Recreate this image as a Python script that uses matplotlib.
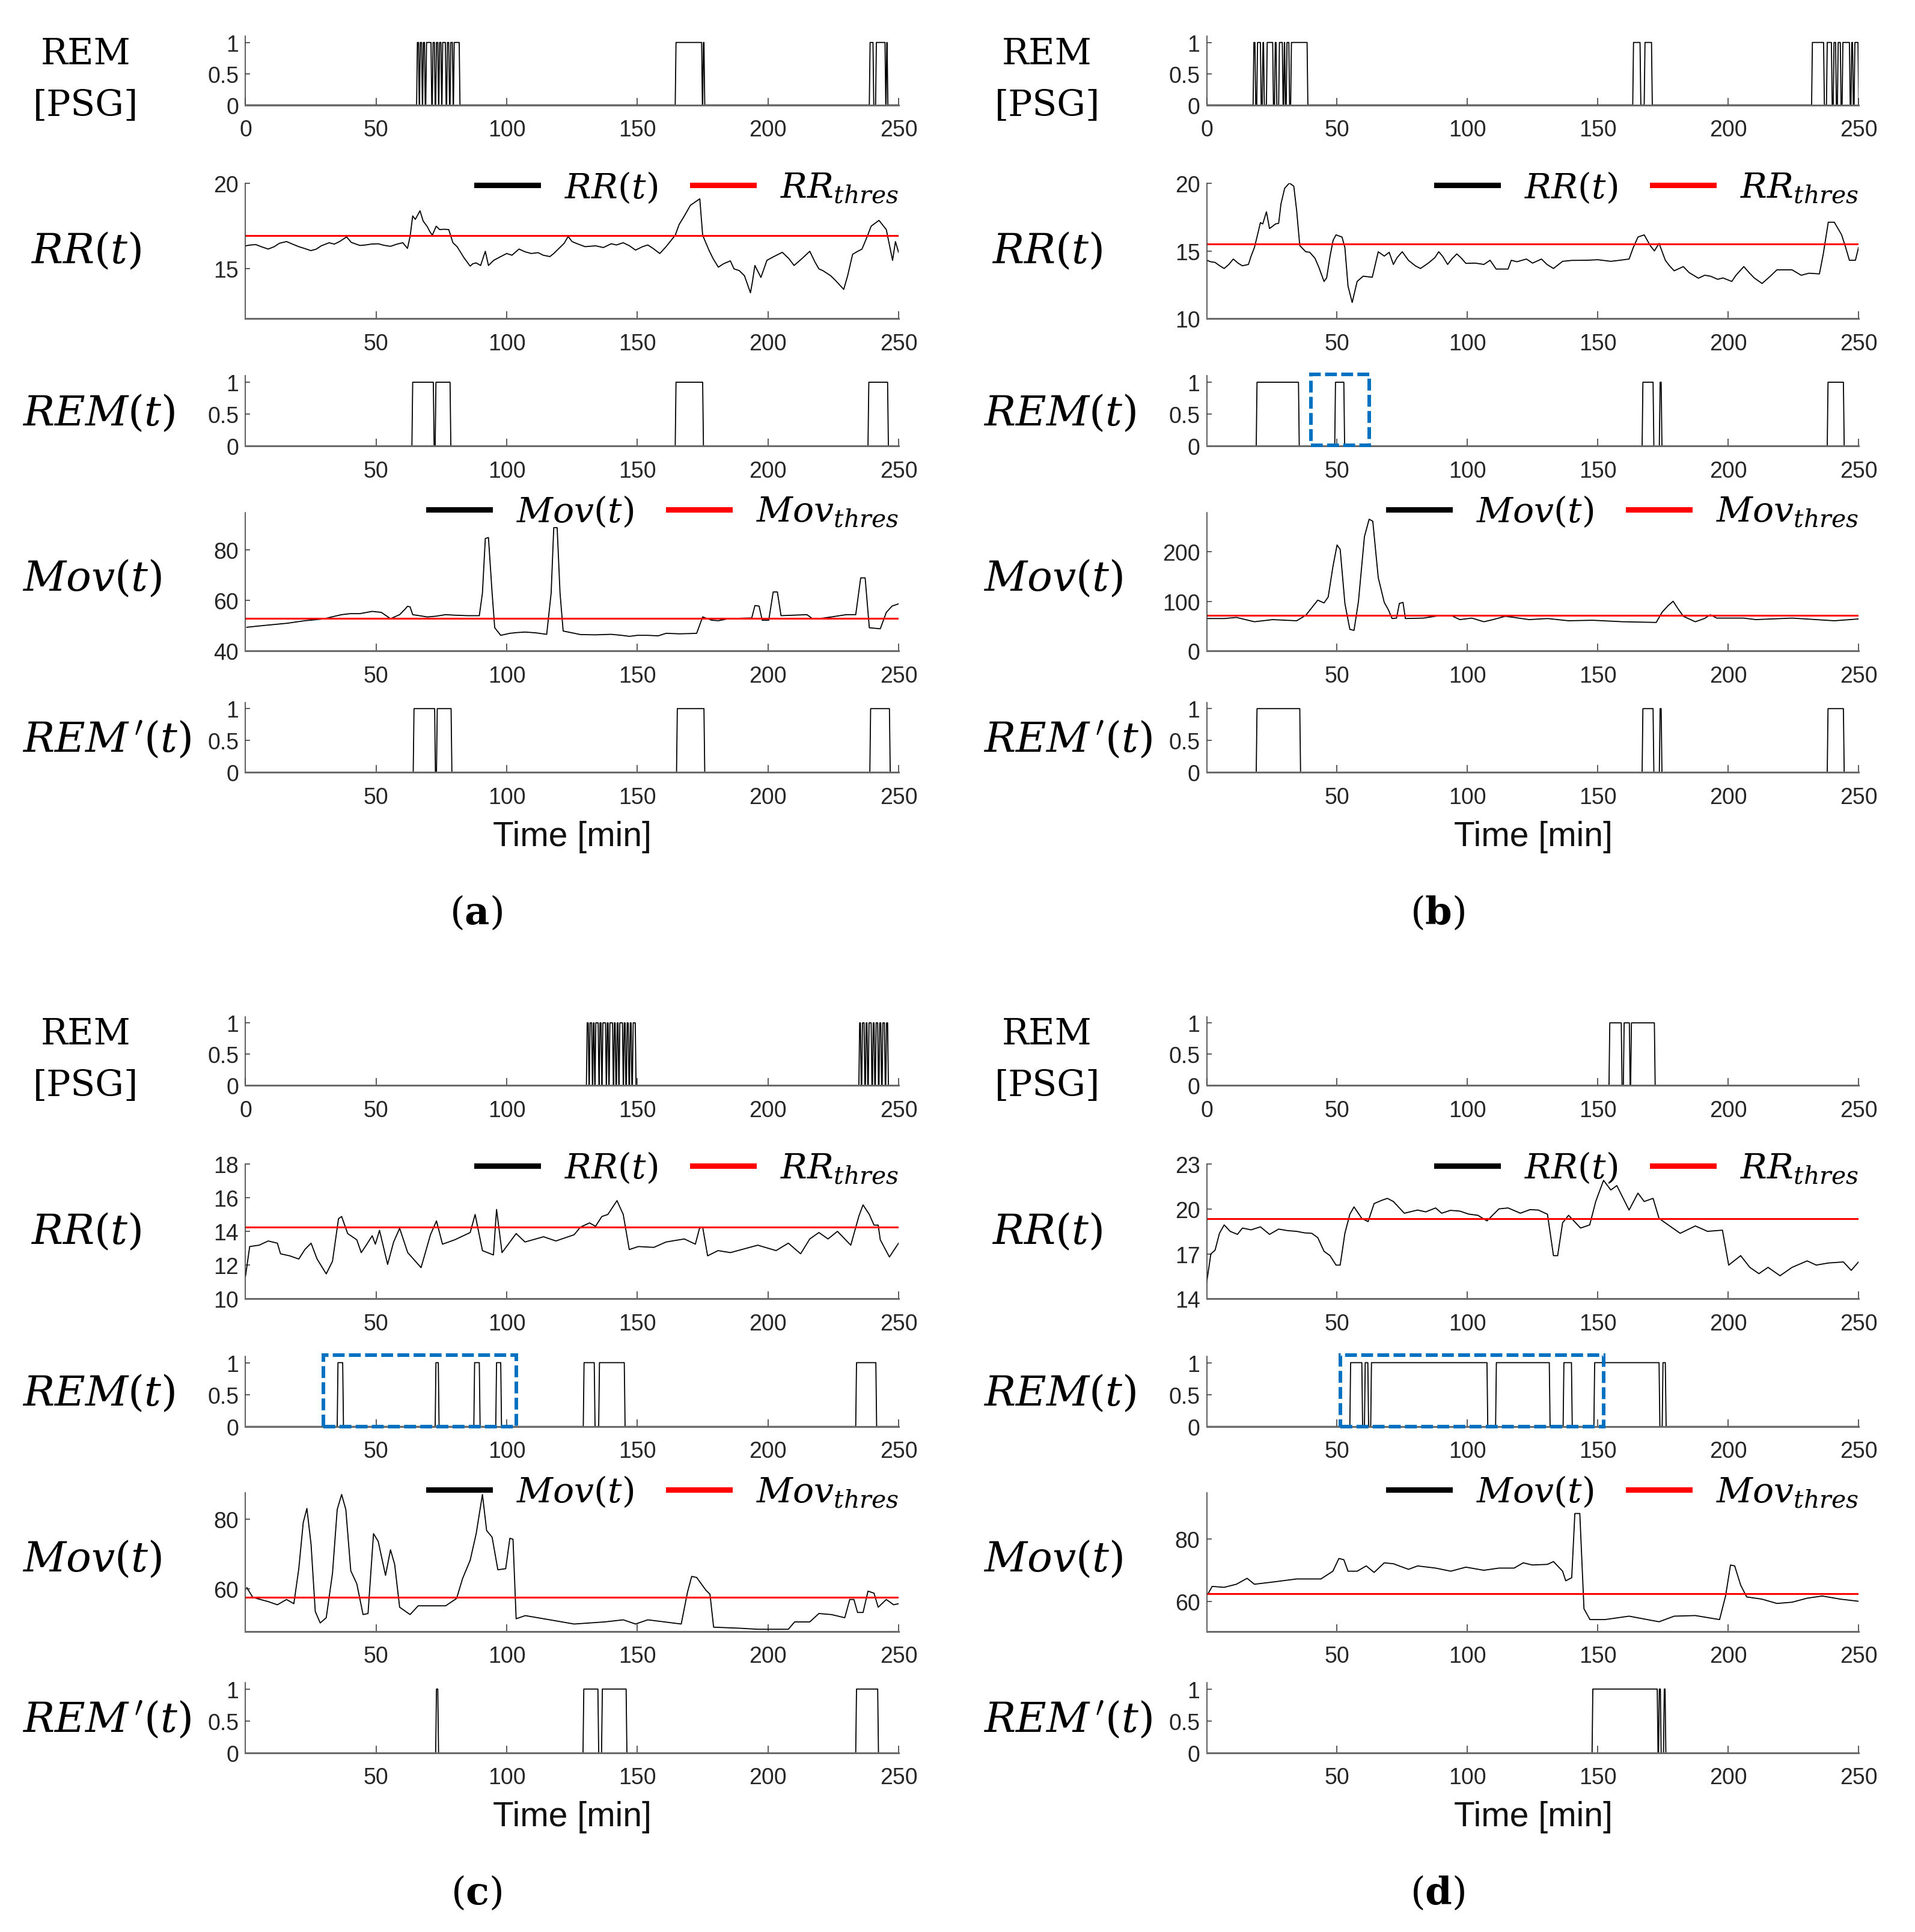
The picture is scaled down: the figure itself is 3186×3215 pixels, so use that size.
import matplotlib
matplotlib.use('Agg')
import matplotlib.pyplot as plt
from matplotlib.patches import Rectangle

plt.rcParams['mathtext.fontset'] = 'dejavuserif'
plt.rcParams['font.family'] = ['Liberation Sans', 'DejaVu Sans']

# ---------------- DATA ----------------
time_ticks_psg = [0, 50, 100, 150, 200, 250]
time_ticks = [50, 100, 150, 200, 250]

# REM [PSG] intervals (start, end) in minutes
psg_a = [(65.5, 66.2), (66.6, 67.4), (67.8, 68.5), (69.0, 71.0), (71.5, 72.3), (72.8, 73.6),
         (74.0, 74.8), (75.2, 76.5), (77.0, 77.8), (78.3, 79.2), (79.6, 81.8),
         (164.5, 174.6), (175.0, 175.5), (238.8, 240.2), (241.2, 244.8), (245.2, 245.6)]
psg_b = [(17.8, 18.5), (19.2, 20.6), (21.3, 21.8), (22.9, 25.3), (26.0, 26.6), (27.6, 29.0),
         (29.5, 29.9), (30.5, 31.5), (32.2, 38.5), (163.4, 166.2), (167.8, 170.6),
         (232.0, 236.6), (237.7, 239.6), (240.3, 241.2), (241.9, 243.0), (243.7, 246.5),
         (247.1, 247.7), (248.3, 249.8)]
psg_c = [(130.5, 131.2), (131.6, 132.5), (132.9, 133.4), (133.8, 135.0), (135.4, 136.1),
         (136.5, 137.8), (138.2, 138.8), (139.2, 140.5), (140.9, 141.5), (142.0, 142.6),
         (143.0, 144.3), (144.7, 145.3), (145.8, 146.5), (147.0, 147.6), (148.1, 149.2),
         (234.8, 235.4), (235.9, 236.8), (237.3, 237.9), (238.4, 239.5), (240.0, 240.6),
         (241.1, 242.0), (242.5, 243.2), (243.7, 244.6), (245.1, 245.8)]
psg_d = [(154.3, 159.0), (159.8, 162.1), (162.6, 171.7)]

# REM(t) detected intervals
rem_a = [(63.7, 71.9), (72.6, 78.3), (164.5, 175.0), (238.3, 245.8)]
rem_b = [(19.0, 35.2), (49.1, 52.6), (167.0, 171.2), (173.6, 174.3), (238.0, 244.2)]
rem_c = [(35.1, 37.2), (72.6, 73.8), (87.4, 89.5), (95.8, 97.7), (129.3, 133.5),
         (135.2, 145.0), (233.6, 241.3)]
rem_d = [(54.9, 59.5), (60.5, 61.8), (62.9, 107.5), (110.8, 131.4), (136.7, 139.9),
         (148.5, 173.5), (174.7, 175.9)]

# REM'(t) intervals
remp_a = [(64.2, 72.4), (73.1, 78.7), (165.0, 175.5), (239.0, 246.5)]
remp_b = [(19.0, 35.7), (167.0, 171.2), (173.6, 174.3), (238.0, 244.2)]
remp_c = [(72.8, 73.6), (129.2, 134.9), (136.3, 145.7), (233.6, 242.0)]
remp_d = [(147.8, 172.8), (173.3, 174.0), (175.2, 175.8)]

# RR(t) traces (time, value)
rr_a = [(0, 16.35), (2, 16.4), (4, 16.42), (6, 16.3), (8.7, 16.16), (11, 16.3), (13, 16.5), (15.7, 16.6),
        (18, 16.45), (20.4, 16.3), (22.5, 16.2), (25, 16.07), (27, 16.15), (29, 16.35), (32, 16.53),
        (34, 16.45), (36, 16.6), (38.7, 16.87), (40.5, 16.55), (43.8, 16.37), (46, 16.4), (48, 16.45),
        (50.8, 16.47), (53, 16.38), (55.5, 16.32), (58, 16.45), (60.2, 16.53), (62, 16.2), (63, 16.9),
        (64, 18.1), (65, 17.9), (66.8, 18.4), (68, 17.8), (69.6, 17.47), (70.5, 17.2), (71.5, 16.97),
        (73, 17.5), (74.3, 17.3), (76, 17.32), (77.8, 17.3), (79.4, 16.53), (81, 16.3), (83.6, 15.66),
        (86, 15.16), (87, 15.3), (88.3, 15.35), (90, 15.2), (91.8, 16.03), (93, 15.2), (95, 15.5),
        (97.7, 15.72), (100, 15.9), (102, 15.8), (104.7, 16.16), (107, 16.0), (109.4, 15.9), (112, 15.95),
        (114, 15.8), (116.5, 15.72), (118, 15.9), (120, 16.2), (122, 16.5), (123.5, 16.9), (125, 16.6),
        (127, 16.47), (130, 16.3), (134, 16.35), (137, 16.25), (140, 16.47), (142, 16.4), (144.6, 16.53),
        (147, 16.35), (149.3, 16.1), (152, 16.3), (154, 16.4), (156, 16.2), (158.6, 15.9), (161, 16.3),
        (164.5, 16.97), (166, 17.6), (168, 18.1), (170.3, 18.72), (172, 18.9), (173.9, 19.1), (175, 16.97),
        (177.4, 16.1), (179, 15.6), (181, 15.1), (183, 15.3), (185.6, 15.47), (187, 15.0), (189, 14.9),
        (191, 14.6), (193.3, 13.6), (194, 14.2), (195, 15.2), (197.3, 14.5), (199.6, 15.5), (202, 15.7),
        (205.5, 15.97), (208, 15.6), (210, 15.2), (213, 15.6), (216, 16.03), (218, 15.4), (219.5, 15.0),
        (221, 14.9), (224, 14.6), (226, 14.3), (229, 13.8), (230.5, 14.6), (232.4, 15.85), (234, 16.0),
        (236, 16.16), (238, 16.9), (239.5, 17.5), (242.5, 17.84), (245.3, 17.3), (247.7, 15.5),
        (248.8, 16.6), (250, 15.97)]
rr_b = [(0, 14.31), (1.5, 14.2), (3.2, 14.15), (5, 13.9), (6.7, 13.7), (8.5, 14.0), (10.2, 14.4), (12, 14.1),
        (13.7, 13.9), (16, 14.0), (17, 14.6), (18.3, 15.25), (19.5, 16.2), (20.6, 17.1), (21.5, 17.0),
        (22.9, 17.9), (24.1, 16.66), (26.4, 17.0), (27.6, 17.05), (28.5, 18.5), (29.9, 19.64), (31.7, 20.03),
        (33.4, 19.8), (34.5, 18.0), (35.7, 15.4), (38, 14.94), (39.5, 14.9), (41.5, 14.47), (43, 13.8),
        (45, 12.74), (46, 13.0), (47.3, 14.6), (48.5, 15.8), (49.6, 16.19), (51.9, 16.03), (53, 15.25),
        (54.2, 12.4), (55.8, 11.18), (57.7, 12.74), (60, 13.13), (63.5, 13.05), (65.8, 14.94), (68.1, 14.62),
        (70, 14.9), (71.6, 14.0), (73, 14.5), (75, 14.94), (77.4, 14.3), (80, 13.9), (82, 13.7), (85, 14.1),
        (87.5, 14.5), (89, 14.94), (90.5, 14.6), (92.4, 14.0), (94, 14.4), (95.9, 14.78), (97.5, 14.5),
        (99.4, 14.08), (103, 14.1), (106.3, 14.0), (108.7, 14.31), (111, 13.66), (115.6, 13.66),
        (116.8, 14.31), (119, 14.2), (122.6, 14.4), (125, 14.1), (128.4, 14.4), (130.5, 14.0), (133, 13.7),
        (136.5, 14.23), (140, 14.3), (145.7, 14.31), (150, 14.35), (155, 14.23), (158, 14.3), (162, 14.4),
        (163.5, 15.2), (165.4, 16.03), (167.8, 16.19), (170.1, 15.4), (171.7, 15.0), (173.5, 15.56),
        (175.9, 14.31), (177.5, 13.9), (179.3, 13.53), (182.8, 13.84), (185, 13.4), (188.6, 12.98),
        (191, 13.2), (193.2, 13.13), (196, 12.9), (198, 13.0), (201.4, 12.74), (203, 13.2), (206, 13.84),
        (208, 13.4), (210, 13.0), (213, 12.59), (216, 13.1), (218.7, 13.6), (224.5, 13.6), (228, 13.2),
        (231, 13.35), (235, 13.3), (236.5, 14.8), (238.4, 17.13), (240.7, 17.13), (243.5, 16.2),
        (245, 15.3), (246.5, 14.31), (248.8, 14.31), (250, 15.25)]
rr_c = [(0, 11.35), (1.6, 13.1), (5.2, 13.18), (8.7, 13.43), (12.2, 13.3), (13.4, 12.67), (16.9, 12.55),
        (20.4, 12.36), (22.7, 12.92), (25.1, 13.3), (27.4, 12.36), (30.9, 11.48), (33.3, 12.23),
        (35.6, 14.75), (36.8, 14.88), (39.1, 13.87), (42.6, 13.5), (44.3, 12.74), (46.2, 13.18),
        (48.5, 13.74), (49.7, 13.24), (51.3, 14.06), (54.4, 12.04), (56.7, 13.37), (59, 14.18),
        (62.1, 12.74), (67.2, 11.85), (70.8, 13.8), (73.1, 14.62), (75.4, 13.24), (80.1, 13.5),
        (86, 13.93), (87.9, 15.0), (90.7, 12.86), (94.9, 12.6), (96.1, 15.3), (98.2, 12.74),
        (103.6, 13.87), (107, 13.37), (114.1, 13.68), (118.8, 13.43), (125.8, 13.8), (128.2, 14.25),
        (131.7, 14.5), (134, 14.3), (136.4, 14.88), (138.7, 15.0), (142.2, 15.82), (144.6, 15.0),
        (146.9, 12.92), (150.4, 13.1), (156.3, 13.05), (161, 13.37), (168, 13.55), (172.2, 13.24),
        (173.8, 14.18), (175, 14.25), (176.9, 12.55), (180.9, 12.86), (185.6, 12.74), (196.1, 13.18),
        (203.1, 12.86), (207.8, 13.3), (212.5, 12.67), (216, 13.55), (219.5, 13.93), (223, 13.55),
        (226.6, 14.0), (231.7, 13.18), (234.8, 14.9), (236.4, 15.57), (238.8, 15.0), (240.6, 14.37),
        (242.2, 14.37), (243, 13.5), (246.5, 12.48), (248.1, 12.86), (250, 13.3)]
rr_d = [(0, 15.1), (1.6, 17.0), (3.2, 17.24), (4.9, 18.37), (6.7, 18.93), (9, 18.5), (11.8, 18.3),
        (13.7, 18.72), (17, 18.6), (20.6, 18.8), (24.1, 18.3), (27.6, 18.65), (31, 18.55), (34.5, 18.5),
        (37.5, 18.4), (40.3, 18.37), (42.6, 18.08), (45, 17.17), (47.3, 16.88), (49.6, 16.25),
        (51.2, 16.25), (53, 18.37), (54.9, 19.64), (56.5, 20.13), (59.5, 19.36), (61.9, 19.15),
        (64.2, 20.35), (67, 20.56), (69.3, 20.7), (71.6, 20.49), (75.8, 19.71), (80.9, 19.92),
        (84, 19.8), (87.8, 20.06), (90.1, 19.71), (93.5, 19.9), (97.1, 19.85), (100.5, 19.65),
        (104, 19.57), (107.5, 19.2), (112.1, 20.0), (115.6, 20.06), (120.3, 19.71), (124, 19.95),
        (127.2, 19.92), (130.7, 19.64), (133, 16.88), (134.6, 16.88), (136.5, 19.07), (138.8, 19.57),
        (143.4, 18.72), (146.9, 18.93), (149.2, 20.49), (152.2, 21.9), (155, 21.26), (157.3, 21.55),
        (162, 19.92), (165.4, 21.05), (167.8, 20.49), (171.2, 20.7), (173.5, 19.36), (177, 18.93),
        (181.6, 18.37), (187.4, 18.86), (192.1, 18.5), (197.8, 18.58), (200.2, 16.25), (204.8, 16.88),
        (208.3, 16.1), (211.8, 15.68), (215.3, 16.1), (219.9, 15.54), (224.5, 16.1), (230.3, 16.53),
        (233.8, 16.25), (238.4, 16.39), (244.2, 16.46), (247.2, 15.9), (250, 16.46)]

rr_thr_a, rr_thr_b, rr_thr_c, rr_thr_d = 16.95, 15.52, 14.25, 19.36

# Mov(t) traces (time, value)
mov_a = [(0.5, 49.4), (5, 49.9), (11, 50.5), (16, 51.0), (22.7, 52), (29.8, 52.7), (33, 53.5), (36.8, 54.4),
         (40, 54.8), (43.8, 54.8), (48.5, 55.7), (52, 55.3), (55.5, 52.8), (59, 54.4), (61, 56.5), (62, 57.7),
         (63, 57.5), (64, 54.4), (69.6, 53.5), (73, 53.8), (76.6, 54.4), (80, 54.2), (85, 54.0), (89.5, 54),
         (90.7, 63), (91.8, 84.6), (93, 85), (94.4, 63), (95.4, 49.2), (97.7, 46.2), (101.2, 47), (104, 47.3),
         (107, 47.5), (111, 47.2), (115.3, 46.6), (117, 63), (118, 88.9), (119.3, 88.9), (120.4, 63),
         (121.6, 47.9), (125, 47.2), (128.2, 46.5), (134, 46.4), (140, 46.6), (144, 46.2), (147, 45.8),
         (150, 46.2), (154, 46.2), (158, 46.0), (161, 47), (166, 46.8), (170, 46.9), (172.7, 47), (175, 53.5),
         (178.5, 52.2), (181, 52.0), (184.4, 52.7), (190, 53.0), (193.8, 53.1), (195, 58), (196.6, 57.8),
         (197.8, 52.2), (200.3, 52.2), (202, 63.4), (203.6, 63.4), (205, 54), (210, 54.2), (214.9, 54.4),
         (217.2, 52.7), (220, 52.9), (224.3, 53.5), (230, 54.4), (233.6, 54.4), (235.5, 69), (237.2, 69),
         (238.8, 49.2), (243, 48.8), (245.3, 55.3), (247.5, 57.8), (250, 58.7)]
mov_b = [(0, 65.5), (6.7, 65.5), (11.4, 67.7), (18.3, 59), (25.3, 63.3), (34.5, 61), (38, 72), (40.3, 87.3),
         (42.6, 102.6), (45, 97), (46.6, 109), (48.4, 170), (50, 214), (51.2, 205), (53, 96), (54.9, 43.7),
         (56.5, 41.5), (58.2, 100), (60.5, 231), (62.3, 266), (63.7, 262), (65.8, 148), (68.1, 98),
         (69.7, 83), (71.1, 65.5), (72.8, 66.4), (73.9, 96), (75.3, 98), (76.2, 65.5), (83.2, 66.4),
         (90.1, 72), (93.6, 72), (97.1, 63.3), (101.7, 66.4), (106.3, 59), (109.8, 63.3), (114.5, 70),
         (117.9, 67.7), (123.7, 63.3), (130.7, 65.5), (138.8, 61), (148, 62), (159.6, 59), (172.4, 57.6),
         (174.7, 78.6), (177, 91.7), (178.9, 100.4), (180.5, 87.3), (182.8, 70), (187.4, 59), (190.9, 65.5),
         (193.2, 73), (195.6, 66.4), (206, 66.4), (210.6, 63.3), (224.5, 66.4), (233.8, 63.3), (240.7, 61),
         (250, 64.6)]
mov_c = [(0.5, 60.4), (2.8, 57.6), (8.7, 56.4), (12.2, 55.5), (15.7, 57), (18.5, 55.8), (20.4, 65.8),
         (22.1, 79), (23.5, 83), (25.1, 72.7), (26.7, 53.6), (28.6, 50.3), (30.9, 51.8), (33.3, 64.5),
         (35.1, 82.7), (36.8, 87), (38.4, 82.7), (40.3, 65.2), (42.6, 61.5), (45, 52.7), (46.9, 53),
         (49, 75.8), (50.8, 73.6), (53.6, 63.9), (55.5, 71.2), (57.1, 67), (59, 54.8), (63, 52.7),
         (66.1, 55.2), (76.6, 55.2), (80.8, 57.3), (83.1, 63), (86, 68.2), (88.3, 75.8), (90.7, 87),
         (92.3, 76.7), (94.4, 74.8), (96.6, 65.5), (99.6, 65.8), (101.2, 74.5), (102.4, 74.2),
         (103.6, 51.5), (107.1, 52.4), (116.5, 51.2), (125.8, 50), (137.5, 50.6), (144.6, 51.2),
         (149.3, 50), (154, 51.2), (166.8, 50), (169.2, 59.1), (170.8, 63.6), (172.7, 63.3), (176.2, 59.7),
         (177.8, 58.5), (179.2, 49.1), (189.1, 48.8), (196.1, 48.5), (207.8, 48.5), (210.2, 50.6),
         (216, 50.6), (219.5, 53), (224.3, 52.7), (229.4, 51.8), (231.3, 57), (232.9, 57), (234.3, 53.3),
         (236.4, 53.3), (238.3, 59.4), (240.6, 58.8), (242.2, 54.8), (245.3, 57), (248.1, 55.5),
         (250, 55.8)]
mov_d = [(0.5, 62.4), (2.1, 64.8), (6.7, 64.5), (11.4, 65.5), (15.5, 67.4), (18.3, 65.5), (25.3, 66.2),
         (34.5, 67.2), (43.8, 67.2), (48.4, 69.7), (50.7, 73.8), (52.6, 73.4), (54.2, 69.7), (57.7, 69.7),
         (61.2, 71.4), (64.2, 69.3), (68.1, 72.4), (71.6, 72.1), (77.4, 70.3), (80.9, 71.4), (87.8, 70.7),
         (93.6, 69.7), (99.4, 71), (106.3, 70), (112.1, 70.7), (117.9, 70.7), (121.4, 72.4), (124.9, 71.7),
         (130.7, 71.9), (133, 72.8), (136.5, 69.7), (137.7, 66.6), (140, 67.6), (141.2, 88.3), (143.1, 88.3),
         (144.7, 57.6), (147, 54.1), (152.7, 54.1), (162, 55.2), (169, 54.1), (173.5, 53.4), (179.3, 55.2),
         (187.4, 55.4), (196.7, 54.1), (199, 61.7), (200.9, 71.7), (202.5, 71.4), (204.8, 65.2),
         (207.1, 61.4), (212.9, 60.7), (218.7, 59.3), (224.5, 59.7), (230.3, 61), (236.1, 61.7),
         (243, 60.7), (250, 60)]

mov_thr_a, mov_thr_b, mov_thr_c, mov_thr_d = 53.0, 72.0, 57.6, 62.4

# highlighted (blue dashed) windows on REM(t): (x0, x1, y0, y1)
box_b = (39.9, 62.3, 0.01, 1.125)
box_c = (29.8, 103.6, 0.0, 1.115)
box_d = (51.2, 152.2, 0.0, 1.12)

# ---------------- LAYOUT ----------------
W, H = 1560.0, 1575.0
fig = plt.figure(figsize=(31.86, 32.16), dpi=100)


def rect(x0, x1, ytop, ybot):
    return [x0 / W, 1 - ybot / H, (x1 - x0) / W, (ybot - ytop) / H]


def style(ax, xticks, ylim, yticks, ylabels):
    ax.set_xlim(0, 250)
    ax.set_ylim(*ylim)
    ax.set_xticks(xticks)
    ax.set_yticks(yticks)
    ax.set_yticklabels(ylabels)
    ax.patch.set_alpha(0)
    for s in ['top', 'right']:
        ax.spines[s].set_visible(False)
    ax.spines['left'].set_color('#404040')
    ax.spines['left'].set_linewidth(1.2)
    ax.spines['bottom'].set_color('#6a6a6a')
    ax.spines['bottom'].set_linewidth(2.2)
    ax.tick_params(axis='x', direction='in', length=9, width=1.2, color='#404040',
                   labelsize=27, pad=17, labelcolor='#262626')
    ax.tick_params(axis='y', direction='in', length=6, width=1.2, color='#404040',
                   labelsize=27, pad=8, labelcolor='#262626')


def step_xy(intervals):
    xs, ys = [0], [0]
    for s, e in intervals:
        xs += [s, s + 0.3, e, e + 0.3]
        ys += [0, 1, 1, 0]
    xs.append(250)
    ys.append(0)
    return xs, ys


def legend(ax, yanch):
    leg = ax.legend(loc='center right', bbox_to_anchor=(1.0, yanch), ncol=2, frameon=False,
                    fontsize=42, handlelength=1.75, handletextpad=0.75, columnspacing=1.0,
                    borderaxespad=0, borderpad=0)
    for ln in leg.get_lines():
        ln.set_linewidth(6.5)


panels = [
    dict(col=(200, 732), dy=0, psg=psg_a, rem=rem_a, remp=remp_a, rr=rr_a, rrthr=rr_thr_a,
         rrlim=(12.1, 20), rrticks=[15, 20], mov=mov_a, movthr=mov_thr_a, movlim=(40, 95),
         movticks=[40, 60, 80], box=None, tag='a'),
    dict(col=(983, 1514), dy=0, psg=psg_b, rem=rem_b, remp=remp_b, rr=rr_b, rrthr=rr_thr_b,
         rrlim=(10, 20), rrticks=[10, 15, 20], mov=mov_b, movthr=mov_thr_b, movlim=(0, 280),
         movticks=[0, 100, 200], box=box_b, tag='b'),
    dict(col=(200, 732), dy=799, psg=psg_c, rem=rem_c, remp=remp_c, rr=rr_c, rrthr=rr_thr_c,
         rrlim=(10, 18), rrticks=[10, 12, 14, 16, 18], mov=mov_c, movthr=mov_thr_c, movlim=(47.9, 87.5),
         movticks=[60, 80], box=box_c, tag='c'),
    dict(col=(983, 1514), dy=799, psg=psg_d, rem=rem_d, remp=remp_d, rr=rr_d, rrthr=rr_thr_d,
         rrlim=(14, 23), rrticks=[14, 17, 20, 23], mov=mov_d, movthr=mov_thr_d, movlim=(50.3, 95),
         movticks=[60, 80], box=box_d, tag='d'),
]

rem_ticks = [0, 0.5, 1]
rem_labels = ['0', '0.5', '1']

for p in panels:
    x0, x1 = p['col']
    dy = p['dy']
    dx = x0 - 200
    # REM [PSG]
    ax = fig.add_axes(rect(x0, x1, 30 + dy, 86 + dy))
    xs, ys = step_xy(p['psg'])
    ax.plot(xs, ys, color='k', lw=1.3)
    style(ax, time_ticks_psg, (0, 1.1), rem_ticks, rem_labels)
    fig.text((70 + dx) / W, 1 - (44 + dy) / H, 'REM', ha='center', va='center',
             fontsize=43, family='DejaVu Serif')
    fig.text((70 + dx) / W, 1 - (86 + dy) / H, '[PSG]', ha='center', va='center',
             fontsize=43, family='DejaVu Serif')

    # RR(t)
    ax = fig.add_axes(rect(x0, x1, 150 + dy, 260 + dy))
    t = [q[0] for q in p['rr']]
    v = [q[1] for q in p['rr']]
    ax.plot(t, v, color='k', lw=1.3, label=r'$RR(t)$')
    ax.axhline(p['rrthr'], color='red', lw=2.2, label=r'$RR_{thres}$')
    style(ax, time_ticks, p['rrlim'], p['rrticks'], [str(k) for k in p['rrticks']])
    legend(ax, 0.97)
    fig.text((25 + dx) / W, 1 - (205 + dy) / H, r'$RR(t)$', ha='left', va='center', fontsize=50)

    # REM(t)
    ax = fig.add_axes(rect(x0, x1, 306.8 + dy, 364 + dy))
    xs, ys = step_xy(p['rem'])
    ax.plot(xs, ys, color='k', lw=1.3)
    style(ax, time_ticks, (0, 1.1), rem_ticks, rem_labels)
    if p['box'] is not None:
        bx0, bx1, by0, by1 = p['box']
        ax.add_patch(Rectangle((bx0, by0), bx1 - bx0, by1 - by0, fill=False, edgecolor='#0070C0',
                               lw=4.3, linestyle=(0, (3.3, 1.2)), clip_on=False, zorder=5))
    fig.text((18 + dx) / W, 1 - (337 + dy) / H, r'$REM(t)$', ha='left', va='center', fontsize=50)

    # Mov(t)
    ax = fig.add_axes(rect(x0, x1, 418 + dy, 531 + dy))
    t = [q[0] for q in p['mov']]
    v = [q[1] for q in p['mov']]
    ax.plot(t, v, color='k', lw=1.3, label=r'$Mov(t)$')
    ax.axhline(p['movthr'], color='red', lw=2.2, label=r'$Mov_{thres}$')
    style(ax, time_ticks, p['movlim'], p['movticks'], [str(k) for k in p['movticks']])
    legend(ax, 1.005)
    fig.text((18 + dx) / W, 1 - (472 + dy) / H, r'$Mov(t)$', ha='left', va='center', fontsize=50)

    # REM'(t)
    ax = fig.add_axes(rect(x0, x1, 572.8 + dy, 630 + dy))
    xs, ys = step_xy(p['remp'])
    ax.plot(xs, ys, color='k', lw=1.3)
    style(ax, time_ticks, (0, 1.1), rem_ticks, rem_labels)
    fig.text((18 + dx) / W, 1 - (603 + dy) / H, r"$REM\,'(t)$", ha='left', va='center', fontsize=50)

    fig.text((466 + dx) / W, 1 - (682 + dy) / H, 'Time [min]', ha='center', va='center',
             fontsize=41, color='#111111')
    fig.text((388 + dx) / W, 1 - (744 + dy) / H, r'$(\mathbf{%s})$' % p['tag'], ha='center',
             va='center', fontsize=46)

fig.savefig('out.png', dpi=100, facecolor='white')
